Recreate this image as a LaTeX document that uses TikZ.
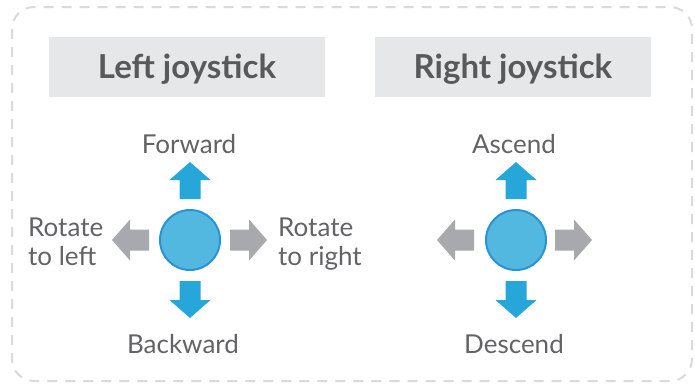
\documentclass[tikz,border=0pt]{standalone}
\usepackage{fontspec}
\setmainfont{Lato}
\definecolor{hdrfill}{HTML}{E6E7E8}
\definecolor{hdrtext}{HTML}{58595B}
\definecolor{lbltext}{HTML}{626365}
\definecolor{arrblue}{HTML}{27A6D9}
\definecolor{arrgray}{HTML}{A7A9AC}
\definecolor{joyfill}{HTML}{52B8E0}
\definecolor{joyline}{HTML}{2A93D4}
\definecolor{frame}{HTML}{DADADA}
\tikzset{
  hdr/.style={fill=hdrfill, minimum width=276pt, minimum height=60pt, inner sep=0pt,
    font=\fontsize{33}{36}\selectfont\bfseries, text=hdrtext, text height=23pt, text depth=0pt},
  lbl/.style={font=\fontsize{26}{29}\selectfont, text=lbltext, inner sep=0pt},
  lbl2/.style={lbl, align=left, anchor=north west},
  joy/.style={circle, fill=joyfill, draw=joyline, line width=2pt, minimum size=60pt, inner sep=0pt},
  pics/dirarrow/.style={code={
    \fill[#1] (0,-10.5) -- (19,-10.5) -- (19,-20.5) -- (37,0) -- (19,20.5) -- (19,10.5) -- (0,10.5) -- cycle;
  }}
}
\begin{document}
\begin{tikzpicture}[x=1pt,y=-1pt]
\useasboundingbox (0,0) rectangle (695,383);
\draw[frame, line width=2pt, dash pattern=on 10pt off 8pt, rounded corners=22pt]
  (12,7) rectangle (692,381);
% headers
\node[hdr] (hl) at (187,67) {Left joystick};
\node[hdr] (hr) at (513,67) {Right joystick};
% left joystick
\node[joy] (jl) at (190,240) {};
\pic[rotate=90] at ([yshift=41pt]jl.center) {dirarrow=arrblue};
\pic[rotate=-90] at ([yshift=-41pt]jl.center) {dirarrow=arrblue};
\pic at ([xshift=40pt]jl.center) {dirarrow=arrgray};
\pic[rotate=180] at ([xshift=-41pt]jl.center) {dirarrow=arrgray};
\node[lbl, anchor=base] (fw) at (189,153) {Forward};
\node[lbl, anchor=base] (bw) at (183,353) {Backward};
\node[lbl2] (rl) at (28,218) {Rotate\\to left};
\node[lbl2] (rr) at (278,218) {Rotate\\to right};
% right joystick
\node[joy] (jr) at (516,240) {};
\pic[rotate=90] at ([yshift=41pt]jr.center) {dirarrow=arrblue};
\pic[rotate=-90] at ([yshift=-41pt]jr.center) {dirarrow=arrblue};
\pic at ([xshift=39pt]jr.center) {dirarrow=arrgray};
\pic[rotate=180] at ([xshift=-42pt]jr.center) {dirarrow=arrgray};
\node[lbl, anchor=base] (as) at (514,153) {Ascend};
\node[lbl, anchor=base] (ds) at (514,353) {Descend};
\end{tikzpicture}
\end{document}
